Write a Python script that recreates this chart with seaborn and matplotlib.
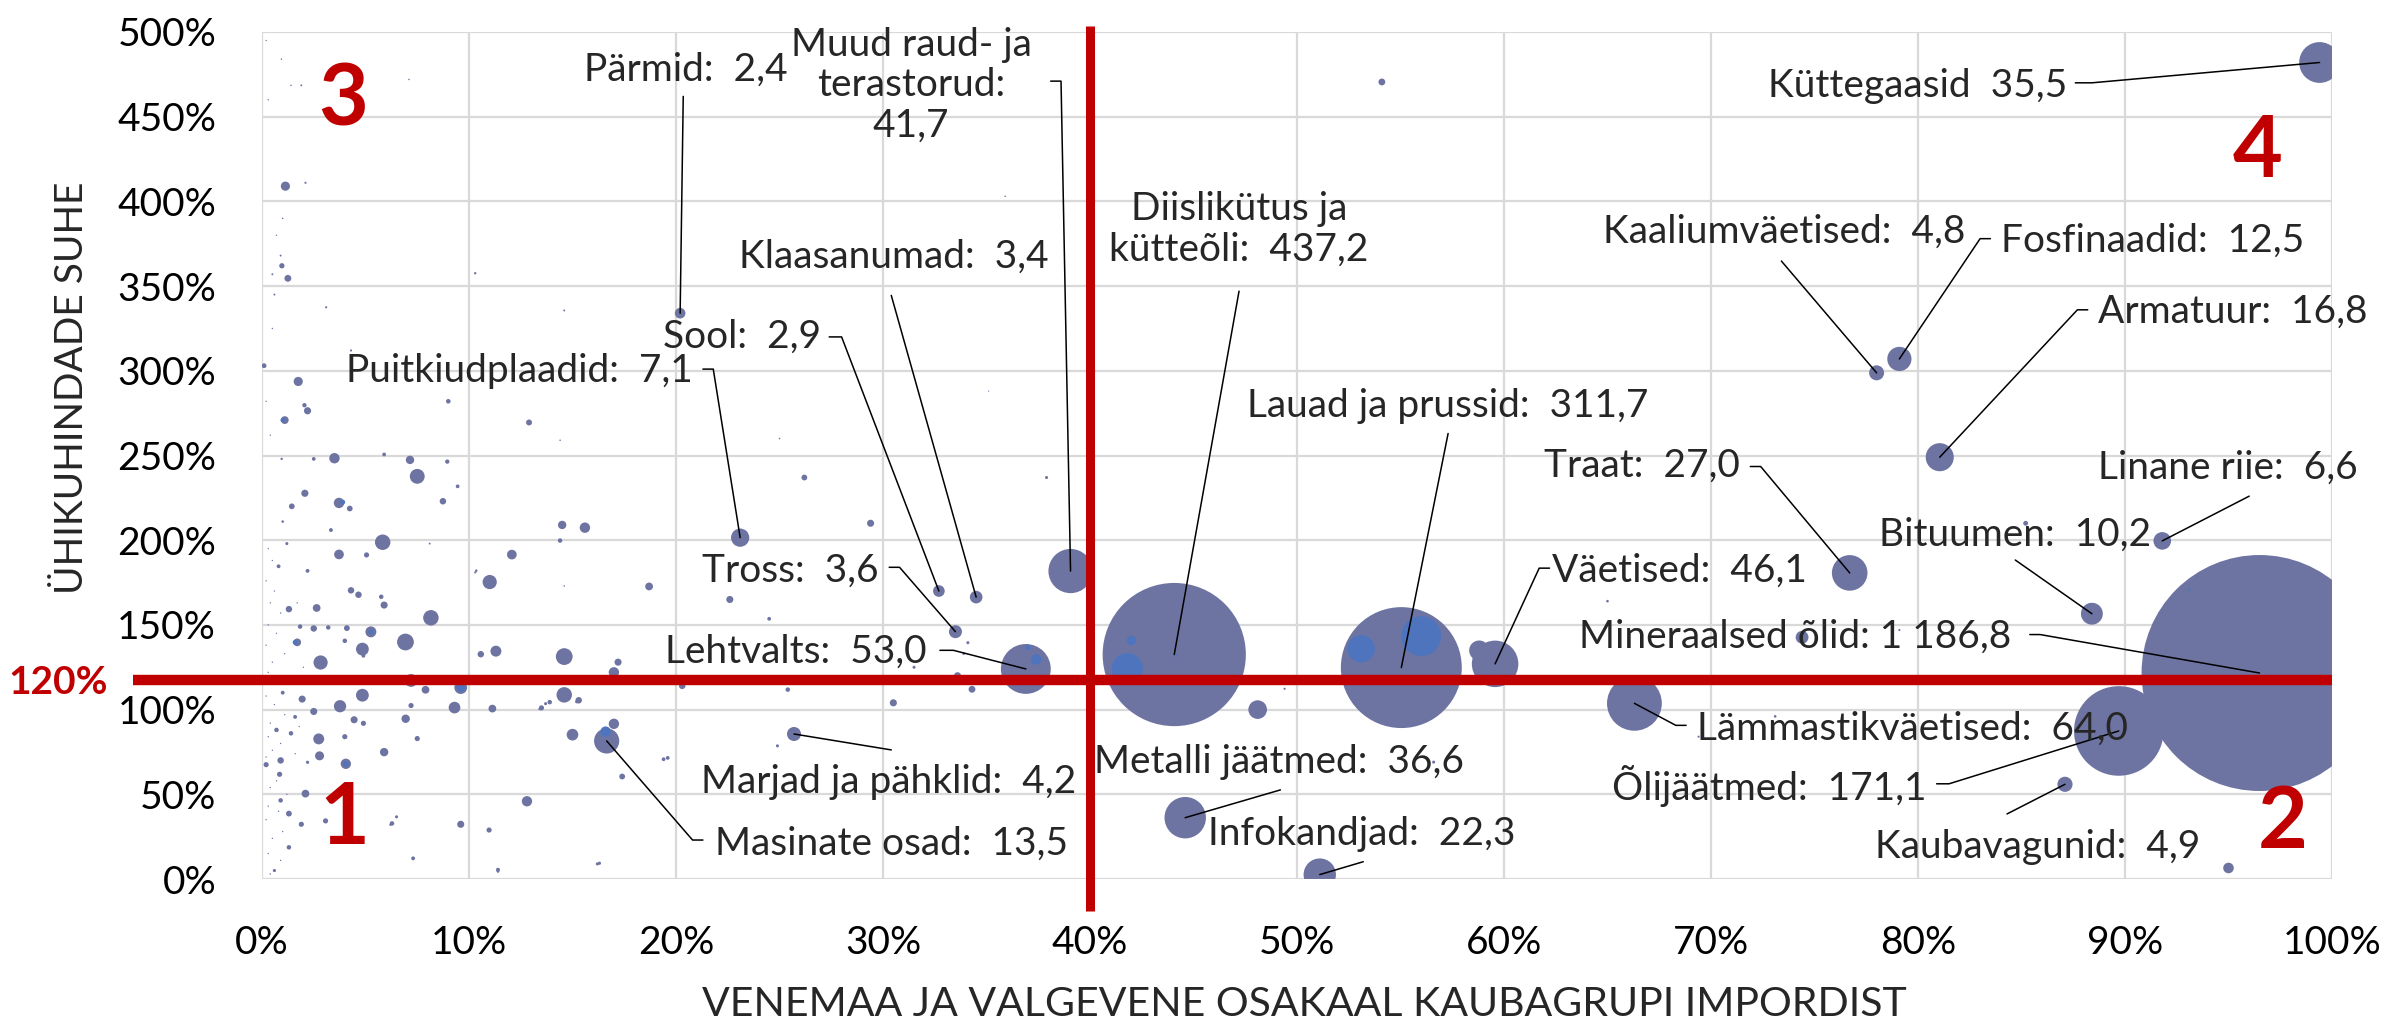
import matplotlib
matplotlib.use("Agg")
import matplotlib.pyplot as plt
import numpy as np
import pandas as pd
import seaborn as sns

# ---------------- data ----------------
# labelled goods: share of Russia+Belarus in imports (fraction), unit price ratio (fraction), import volume
lab_names = ["Küttegaasid", "Pärmid", "Muud raud- ja terastorud", "Klaasanumad", "Sool",
             "Puitkiudplaadid", "Tross", "Lehtvalts", "Marjad ja pähklid", "Masinate osad",
             "Diislikütus ja kütteõli", "Lauad ja prussid", "Metalli jäätmed", "Infokandjad",
             "Väetised", "Mineraalsed õlid", "Lämmastikväetised", "Õlijäätmed", "Kaubavagunid",
             "Traat", "Bituumen", "Linane riie", "Armatuur", "Fosfinaadid", "Kaaliumväetised"]
lab_share = [0.994, 0.202, 0.3906, 0.345, 0.327, 0.231, 0.335, 0.369, 0.257, 0.1665,
             0.4407, 0.5504, 0.446, 0.511, 0.5957, 0.965, 0.663, 0.897, 0.871,
             0.767, 0.884, 0.918, 0.8105, 0.791, 0.780]
lab_ratio = [4.82, 3.34, 1.818, 1.664, 1.70, 2.015, 1.46, 1.24, 0.856, 0.815,
             1.325, 1.248, 0.362, 0.026, 1.27, 1.216, 1.037, 0.874, 0.559,
             1.807, 1.566, 1.996, 2.49, 3.07, 2.988]
lab_volume = [35.5, 2.4, 41.7, 3.4, 2.9, 7.1, 3.6, 53.0, 4.2, 13.5,
              437.2, 311.7, 36.6, 22.3, 46.1, 1186.8, 64.0, 171.1, 4.9,
              27.0, 10.2, 6.6, 16.8, 12.5, 4.8]
lab_templates = ["Küttegaasid  {}", "Pärmid:  {}", "Muud raud- ja\nterastorud:\n{}", "Klaasanumad:  {}",
                 "Sool:  {}", "Puitkiudplaadid:  {}", "Tross:  {}", "Lehtvalts:  {}",
                 "Marjad ja pähklid:  {}", "Masinate osad:  {}", "Diislikütus ja\nkütteõli:  {}",
                 "Lauad ja prussid:  {}", "Metalli jäätmed:  {}", "Infokandjad:  {}", "Väetised:  {}",
                 "Mineraalsed õlid: {}", "Lämmastikväetised:  {}", "Õlijäätmed:  {}",
                 "Kaubavagunid:  {}", "Traat:  {}", "Bituumen:  {}", "Linane riie:  {}",
                 "Armatuur:  {}", "Fosfinaadid:  {}", "Kaaliumväetised:  {}"]

# unlabelled goods (share %, ratio %, volume)
oth_share = [1.13, 2.1, 1.0, 0.96, 1.25, 0.5, 0.9, 10.3, 0.6, 3.1, 14.6, 4.3, 0.1, 10.0, 1.75, 9.0,
             2.05, 2.2, 1.1, 12.9, 14.4, 3.5, 0.95, 2.5, 5.9, 7.15, 7.5, 8.95, 9.45, 2.07, 3.72, 4.24,
             1.44, 8.74, 7.1, 0.94, 1.4, 1.9, 25.0, 54.1, 35.9, 35.1,
             1.0, 3.33, 1.2, 5.83, 3.72, 5.05, 0.8, 2.2, 8.1, 10.35, 11.0, 12.07, 14.5, 15.6, 14.4,
             4.3, 4.66, 5.76, 5.9, 8.16, 2.64, 1.3, 1.84, 2.5, 3.2, 4.1, 5.26, 6.93, 4.85, 4.0, 1.7,
             4.9, 2.83, 10.57, 11.3, 14.6, 7.2, 7.9, 9.6, 9.3, 4.85, 3.77, 1.94, 2.5, 1.0, 7.2,
             4.45, 4.9, 6.94, 7.5, 11.13, 13.5, 13.9, 14.6, 15.3, 15.0, 1.6, 2.74, 4.0, 1.4, 0.7,
             2.78, 4.05, 0.9, 5.9, 2.2, 0.2, 0.85, 2.1, 0.9, 12.8, 1.3, 3.07, 1.9, 6.28, 9.6, 10.97,
             1.3, 7.3, 11.4, 0.6, 16.3,
             18.7, 22.6, 24.5, 26.2, 29.4, 37.9, 34.1, 31.5, 33.6, 34.3, 30.5, 25.4, 21.7, 20.3,
             17.2, 17.0, 24.9, 19.6, 17.4, 16.2, 17.0, 14.6, 10.3, 15.2, 13.7, 13.4, 19.4, 11.4,
             6.2, 6.5, 33.9, 56.6, 48.1, 49.4, 58.8,
             65.0, 74.4, 79.1, 73.1, 69.4, 85.2, 95.0]
oth_ratio = [409, 411, 390, 362, 354.6, 357, 368, 357.6, 345, 337.5, 335.6, 312, 303, 297, 293.7, 282,
             279.7, 276.4, 270.9, 269.5, 259, 248.4, 248, 248, 250.6, 247.4, 237.7, 246.4, 231.8, 227.7,
             222, 218.7, 220, 223, 472, 484, 468.5, 468.5, 260, 470.5, 403, 288,
             211, 206, 198, 198.8, 191.6, 191.3, 184.6, 181.9, 198, 182, 175.3, 191.5, 209, 207.4,
             199.8, 170.4, 167.8, 166.6, 161.7, 154.2, 160, 159.3, 149, 147.9, 148.5, 148.1, 145.9,
             139.9, 135.7, 140.6, 139.7, 131.8, 127.8, 132.7, 134.5, 131.3, 117.2, 111.7, 113,
             101.2, 108.5, 102, 106.2, 98.9, 110, 102.4, 94, 91.9, 94.6, 82.9, 100.6, 101, 104.4,
             108.7, 105.5, 85.2, 95.7, 82.7, 84, 86, 88, 72.7, 68, 70, 74.9, 68.9, 67.5, 61.8, 50.4,
             46.4, 45.9, 38.6, 34.3, 32.3, 32.8, 32.3, 28.9, 18.7, 12.2, 5.5, 5, 9.3,
             172.7, 165, 153.6, 237, 210, 237, 139.5, 125, 120, 112, 104, 111.8, 117, 114, 128,
             122, 78.6, 71.5, 60.5, 8.9, 91.6, 173, 181, 104.6, 103.5, 100.3, 70.7, 4.6, 32, 36.7,
             133, 69, 100, 112.3, 134.9,
             164, 142.7, 147, 96, 84, 210, 6.5]
oth_volume = [1.8, 0.1, 0.05, 0.6, 1.0, 0.08, 0.08, 0.12, 0.08, 0.1, 0.08, 0.1, 0.5, 0.3, 1.8, 0.45,
              0.4, 1.1, 1.3, 0.75, 0.05, 2.3, 0.12, 0.3, 0.3, 1.5, 4.7, 0.4, 0.3, 1.1, 2.3, 0.7,
              0.7, 0.9, 0.05, 0.05, 0.05, 0.08, 0.05, 1.0, 0.05, 0.03,
              0.14, 0.32, 0.2, 5.1, 2.0, 0.57, 0.32, 0.32, 0.08, 0.14, 4.3, 2.0, 1.5, 2.3, 0.43,
              0.89, 0.89, 0.43, 1.07, 5.1, 1.28, 0.89, 0.43, 0.89, 0.43, 0.72, 2.56, 6.0, 3.5, 0.43,
              1.28, 0.32, 4.3, 0.89, 2.56, 6.0, 3.5, 1.28, 3.5, 2.9, 3.5, 3.2, 1.07, 1.07, 0.32, 0.57,
              1.07, 0.57, 1.5, 0.57, 1.28, 0.57, 0.43, 5.1, 0.89, 2.9, 0.32, 2.56, 0.57, 0.43, 0.43,
              1.74, 2.27, 0.89, 1.5, 0.22, 0.57, 0.57, 1.28, 0.43, 2.27, 0.72, 0.57, 0.57, 0.43, 1.07,
              0.57, 0.43, 0.32, 0.32, 0.22, 0.22,
              1.3, 1.07, 0.3, 0.72, 1.07, 0.2, 0.2, 0.2, 1.07, 1.0, 1.07, 0.43, 1.07, 0.89, 1.07,
              2.3, 0.2, 0.3, 0.72, 0.2, 2.3, 0.05, 0.1, 0.2, 0.2, 0.1, 0.3, 0.2, 0.1, 0.2,
              0.15, 0.2, 7.4, 0.1, 8.5,
              0.15, 3.5, 0.1, 0.15, 0.1, 0.5, 2.4]

# tiny specks of very small import volume near the vertical axis (share %, ratio %)
speck_share = [0.3, 0.5, 0.2, 0.6, 0.4, 0.9, 0.3, 0.7, 0.2, 1.1, 0.5, 0.3, 0.8, 1.3, 0.2, 0.6, 1.1,
               0.4, 0.3, 0.9, 0.5, 1.6, 0.2, 0.7, 0.4, 1.2, 0.3, 0.8, 0.2, 1.0, 0.5, 0.3, 0.9, 0.4,
               1.8, 2.0, 1.7, 0.4, 0.2, 0.5, 0.7, 0.3, 0.2]
speck_ratio = [195, 188, 176, 170, 163, 157, 150, 145, 138, 133, 128, 122, 118, 115, 108, 103, 97,
               92, 84, 80, 76, 74, 72, 58, 54, 50, 43, 40, 35, 28, 24, 15, 11, 3,
               90, 125, 163, 262, 282, 325, 380, 460, 495]
speck_volume = 0.04

# bubbles overlapping larger ones (shown in blue)
ovl_share = [41.8, 42.0, 44.2, 56.0, 53.1, 37.4, 37.0, 16.6, 93.1, 9.6, 5.26, 1.6, 4.05, 1.0, 3.9]
ovl_ratio = [124.1, 140.8, 132.0, 143.4, 135.9, 129.6, 136.6, 87.0, 170.8, 113.0, 145.9, 139.7, 68.0, 270.9, 222.5]
ovl_volume = [21.0, 1.9, 0.1, 34.0, 16.0, 2.4, 0.6, 2.3, 0.15, 1.6, 0.5, 0.5, 0.6, 0.4, 0.5]

threshold_price = 1.172   # horizontal red line (labelled 120%)
threshold_share = 0.40    # vertical red line

x_ticks = [0, 0.1, 0.2, 0.3, 0.4, 0.5, 0.6, 0.7, 0.8, 0.9, 1.0]
x_ticklabels = ["0%", "10%", "20%", "30%", "40%", "50%", "60%", "70%", "80%", "90%", "100%"]
y_ticks = [0, 0.5, 1.0, 1.5, 2.0, 2.5, 3.0, 3.5, 4.0, 4.5, 5.0]
y_ticklabels = ["0%", "50%", "100%", "150%", "200%", "250%", "300%", "350%", "400%", "450%", "500%"]

x_title = "VENEMAA JA VALGEVENE OSAKAAL KAUBAGRUPI IMPORDIST"
y_title = "ÜHIKUHINDADE SUHE"
quadrants = ["1", "2", "3", "4"]

# ---------------- layout of labels ----------------
# text anchor (data coords), horizontal alignment, leader start, optional short horizontal kink end
lab_tx = [0.872, 0.2045, 0.3135, 0.380, 0.270, 0.208, 0.298, 0.321, 0.212, 0.219,
          0.472, 0.476, 0.402, 0.457, 0.623, 0.845, 0.693, 0.804, 0.779,
          0.714, 0.781, 0.887, 0.887, 0.840, 0.823]
lab_ty = [4.68, 4.78, 4.685, 3.675, 3.20, 3.00, 1.82, 1.342, 0.574, 0.211,
          3.835, 2.795, 0.69, 0.265, 1.818, 1.428, 0.885, 0.549, 0.191,
          2.44, 2.035, 2.428, 3.346, 3.766, 3.819]
lab_ha = ["right", "center", "center", "right", "right", "right", "right", "right", "left", "left",
          "center", "left", "left", "left", "left", "right", "left", "right", "left",
          "right", "left", "left", "left", "left", "right"]
lead_sx = [0.876, 0.2035, 0.381, 0.304, 0.274, 0.213, 0.303, 0.3275, 0.304, 0.213,
           0.472, 0.573, 0.492, 0.532, 0.622, 0.854, 0.688, 0.809, 0.843,
           0.719, 0.847, 0.960, 0.882, 0.835, 0.734]
lead_sy = [4.70, 4.62, 4.71, 3.445, 3.20, 3.01, 1.84, 1.35, 0.762, 0.23,
           3.47, 2.63, 0.526, 0.102, 1.835, 1.443, 0.907, 0.562, 0.384,
           2.435, 1.883, 2.26, 3.36, 3.78, 3.648]
lead_kx = [0.884, None, 0.386, None, 0.280, 0.218, 0.308, 0.334, None, 0.208,
           None, None, None, None, 0.617, 0.859, 0.683, 0.815, None,
           0.724, None, None, 0.877, 0.830, None]

quad_x = [0.0396, 0.976, 0.039, 0.964]
quad_y = [0.354, 0.33, 4.59, 4.29]

# ---------------- style ----------------
sns.set_theme(style="white")
plt.rcParams["font.family"] = ["Lato", "DejaVu Sans"]
BUBBLE = "#6E74A2"
OVERLAP = "#4E74BE"
RED = "#C00000"
FS = 28


def fmt(v):
    return f"{v:,.1f}".replace(",", " ").replace(".", ",")


main = pd.concat([
    pd.DataFrame({"share": lab_share, "ratio": lab_ratio, "volume": lab_volume}),
    pd.DataFrame({"share": np.array(oth_share) / 100, "ratio": np.array(oth_ratio) / 100,
                  "volume": oth_volume}),
    pd.DataFrame({"share": np.array(speck_share) / 100, "ratio": np.array(speck_ratio) / 100,
                  "volume": speck_volume}),
], ignore_index=True).sort_values("volume", ascending=False)
main["group"] = "main"
ovl = pd.DataFrame({"share": np.array(ovl_share) / 100, "ratio": np.array(ovl_ratio) / 100,
                    "volume": ovl_volume, "group": "overlap"})
df = pd.concat([main, ovl], ignore_index=True)

vmax = max(lab_volume)
smax = 24.32 * vmax   # marker area (pt^2) for the largest bubble

fig = plt.figure(figsize=(23.92, 10.26), dpi=100)
ax = fig.add_axes([262 / 2392, 1 - 879 / 1026, 2070 / 2392, 847 / 1026])

sns.scatterplot(data=df, x="share", y="ratio", size="volume", sizes=(0, smax),
                size_norm=(0, vmax), hue="group", palette={"main": BUBBLE, "overlap": OVERLAP},
                linewidth=0, legend=False, ax=ax, zorder=2)

ax.set_xlim(0, 1)
ax.set_ylim(0, 5)
ax.set_xticks(x_ticks)
ax.set_xticklabels(x_ticklabels)
ax.set_yticks(y_ticks)
ax.set_yticklabels(y_ticklabels)
ax.tick_params(axis="both", length=0, labelsize=FS, colors="black")
ax.tick_params(axis="x", pad=33)
ax.tick_params(axis="y", pad=33)
ax.grid(True, color="#D9D9D9", lw=1.6)
ax.set_axisbelow(True)
for sp in ax.spines.values():
    sp.set_visible(False)
ax.set_xlabel("")
ax.set_ylabel("")

fig.text(1304 / 2392, 1 - 1004 / 1026, x_title, ha="center", va="center", fontsize=29.5)
fig.text(72 / 2392, 1 - 388 / 1026, y_title, ha="center", va="center", fontsize=FS,
         rotation=90)

# red reference lines
ax.plot([-0.0623, 1.0], [threshold_price, threshold_price], color=RED, lw=7.5,
        solid_capstyle="butt", clip_on=False, zorder=4)
ax.plot([threshold_share, threshold_share], [-0.19, 5.035], color=RED, lw=6.5,
        solid_capstyle="butt", clip_on=False, zorder=4)
ax.text(-0.0745, threshold_price - 0.01, "120%", ha="right", va="center", fontsize=FS,
        fontweight="bold", color=RED, clip_on=False)

# quadrant numbers
for q, qx, qy in zip(quadrants, quad_x, quad_y):
    ax.text(qx, qy, q, ha="center", va="center", fontsize=62, fontweight="bold",
            color=RED, zorder=5)

# labels with leader lines
for i, tpl in enumerate(lab_templates):
    txt = tpl.format(fmt(lab_volume[i]))
    ax.text(lab_tx[i], lab_ty[i], txt, ha=lab_ha[i], va="center", fontsize=FS,
            multialignment="center", linespacing=1.15, zorder=6, clip_on=False)
    xs = [lead_sx[i]]
    ys = [lead_sy[i]]
    if lead_kx[i] is not None:
        xs.append(lead_kx[i])
        ys.append(lead_sy[i])
    xs.append(lab_share[i])
    ys.append(lab_ratio[i])
    ax.plot(xs, ys, color="black", lw=1.1, zorder=5, clip_on=False)

fig.savefig("out.png", dpi=100)
